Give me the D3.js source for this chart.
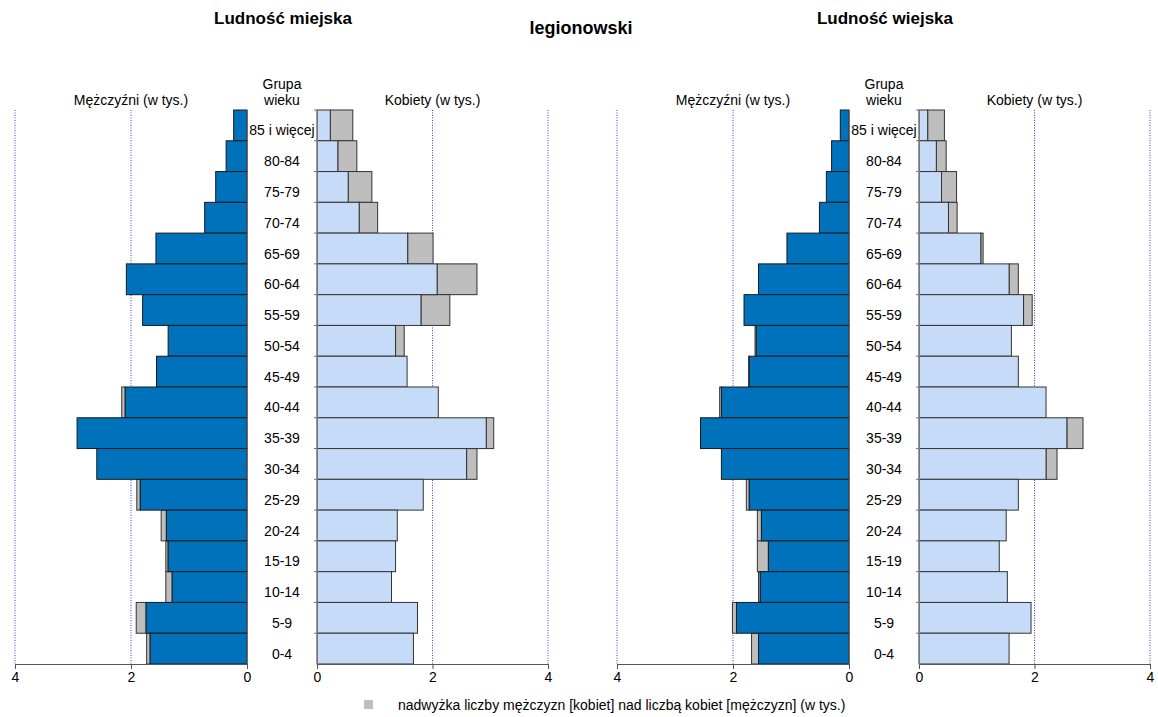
<!DOCTYPE html>
<html>
<head>
<meta charset="utf-8">
<script src="https://cdn.jsdelivr.net/npm/d3@7"></script>
<style>
  body { margin: 0; background: #fff; }
  svg { font-family: "Liberation Sans", Arial, sans-serif; }
</style>
</head>
<body>
<svg width="1158" height="717"></svg>
<script>
const ages = ["85 i więcej", "80-84", "75-79", "70-74", "65-69", "60-64", "55-59", "50-54", "45-49",
  "40-44", "35-39", "30-34", "25-29", "20-24", "15-19", "10-14", "5-9", "0-4"];

// w tys., kolejność jak ages (od najstarszych)
const urbanMale = [0.23, 0.36, 0.54, 0.73, 1.57, 2.08, 1.80, 1.36, 1.56,
  2.16, 2.93, 2.59, 1.90, 1.48, 1.40, 1.40, 1.91, 1.73];
const urbanFemale = [0.62, 0.69, 0.95, 1.05, 2.01, 2.77, 2.30, 1.51, 1.56,
  2.10, 3.06, 2.77, 1.84, 1.39, 1.36, 1.29, 1.74, 1.67];
const ruralMale = [0.15, 0.30, 0.39, 0.51, 1.07, 1.56, 1.81, 1.62, 1.73,
  2.23, 2.56, 2.20, 1.77, 1.58, 1.58, 1.56, 2.01, 1.68];
const ruralFemale = [0.44, 0.47, 0.65, 0.66, 1.11, 1.72, 1.96, 1.60, 1.72,
  2.20, 2.84, 2.39, 1.72, 1.51, 1.39, 1.53, 1.94, 1.56];

const ticks = [0, 2, 4];

const panels = [
  { title: "Ludność miejska", male: urbanMale, female: urbanFemale, dx: 0 },
  { title: "Ludność wiejska", male: ruralMale, female: ruralFemale, dx: 602 }
];

const colMale = "#0072BC", colFemale = "#C6DBF7", colSurplus = "#BEBEBE";

const svg = d3.select("svg");

const y = d3.scaleBand().domain(ages).range([110, 664]).padding(0);

svg.append("text")
  .attr("x", 581).attr("y", 34)
  .attr("text-anchor", "middle")
  .style("font-size", "18px").style("font-weight", "bold")
  .text("legionowski");

panels.forEach(p => {
  const xm = d3.scaleLinear().domain([0, 4]).range([247 + p.dx, 15 + p.dx]);
  const xf = d3.scaleLinear().domain([0, 4]).range([317 + p.dx, 548 + p.dx]);
  const mid = (xm(0) + xf(0)) / 2;
  const g = svg.append("g");

  // naglowki
  g.append("text").attr("x", mid + 1).attr("y", 24)
    .attr("text-anchor", "middle")
    .style("font-size", "17px").style("font-weight", "bold")
    .text(p.title);
  g.append("text").attr("x", xm(2)).attr("y", 105)
    .attr("text-anchor", "middle").style("font-size", "14px")
    .text("Mężczyźni (w tys.)");
  g.append("text").attr("x", xf(2)).attr("y", 105)
    .attr("text-anchor", "middle").style("font-size", "14px")
    .text("Kobiety (w tys.)");
  g.append("text").attr("x", mid).attr("y", 89)
    .attr("text-anchor", "middle").style("font-size", "14px")
    .text("Grupa");
  g.append("text").attr("x", mid).attr("y", 105)
    .attr("text-anchor", "middle").style("font-size", "14px")
    .text("wieku");

  // siatka
  [[xm, ticks.slice(1)], [xf, ticks.slice(1)]].forEach(([sc, tv]) => {
    g.selectAll(null).data(tv).join("line")
      .attr("x1", d => sc(d)).attr("x2", d => sc(d))
      .attr("y1", 110).attr("y2", 664)
      .attr("stroke", "#3b3bff").attr("stroke-width", 1)
      .attr("stroke-dasharray", "1,1.5");
  });

  const rows = ages.map((a, i) => ({ age: a, m: p.male[i], f: p.female[i], lo: Math.min(p.male[i], p.female[i]) }));

  // nadwyzki
  g.selectAll(".sm").data(rows.filter(d => d.m > d.f)).join("rect")
    .attr("x", d => xm(d.m)).attr("width", d => xm(d.f) - xm(d.m))
    .attr("y", d => y(d.age)).attr("height", y.bandwidth())
    .attr("fill", colSurplus).attr("stroke", "#333").attr("stroke-width", 1);
  g.selectAll(".sf").data(rows.filter(d => d.f > d.m)).join("rect")
    .attr("x", d => xf(d.m)).attr("width", d => xf(d.f) - xf(d.m))
    .attr("y", d => y(d.age)).attr("height", y.bandwidth())
    .attr("fill", colSurplus).attr("stroke", "#333").attr("stroke-width", 1);

  // slupki wspolne
  g.selectAll(".bm").data(rows).join("rect")
    .attr("x", d => xm(d.lo)).attr("width", d => xm(0) - xm(d.lo))
    .attr("y", d => y(d.age)).attr("height", y.bandwidth())
    .attr("fill", colMale).attr("stroke", "#1a1a1a").attr("stroke-width", 1);
  g.selectAll(".bf").data(rows).join("rect")
    .attr("x", xf(0)).attr("width", d => xf(d.lo) - xf(0))
    .attr("y", d => y(d.age)).attr("height", y.bandwidth())
    .attr("fill", colFemale).attr("stroke", "#333").attr("stroke-width", 1);

  // etykiety wieku
  g.selectAll(".age").data(ages).join("text")
    .attr("x", mid).attr("y", d => y(d) + y.bandwidth() / 2 + 10)
    .attr("text-anchor", "middle").style("font-size", "14px")
    .text(d => d);

  // osie
  const axM = g.append("g").attr("transform", "translate(0,664)")
    .call(d3.axisBottom(xm).tickValues(ticks).tickSize(5).tickSizeOuter(0).tickFormat(d3.format("d")));
  const axF = g.append("g").attr("transform", "translate(0,664)")
    .call(d3.axisBottom(xf).tickValues(ticks).tickSize(5).tickSizeOuter(0).tickFormat(d3.format("d")));
  [axM, axF].forEach(a => {
    a.select(".domain").attr("stroke", "#555");
    a.selectAll(".tick line").attr("stroke", "#555");
    a.selectAll(".tick text").style("font-size", "14px").attr("fill", "#000")
      .style("font-family", "'Liberation Sans', Arial, sans-serif");
  });
  const ax0 = g.append("g").attr("transform", `translate(${xf(0)},0)`)
    .call(d3.axisLeft(y).tickValues([]).tickSizeOuter(0));
  ax0.select(".domain").attr("stroke", "#777");
  g.selectAll(".yt").data(ages).join("line")
    .attr("x1", xf(0) - 3).attr("x2", xf(0))
    .attr("y1", d => y(d)).attr("y2", d => y(d))
    .attr("stroke", "#777");
  g.append("line").attr("x1", xm(0)).attr("x2", xm(0))
    .attr("y1", 110).attr("y2", 664).attr("stroke", "#555");
});

// legenda
svg.append("rect").attr("x", 364).attr("y", 700).attr("width", 9).attr("height", 9)
  .attr("fill", colSurplus);
svg.append("text").attr("x", 398).attr("y", 710)
  .style("font-size", "14px")
  .text("nadwyżka liczby mężczyzn [kobiet] nad liczbą kobiet [mężczyzn] (w tys.)");
</script>
</body>
</html>
